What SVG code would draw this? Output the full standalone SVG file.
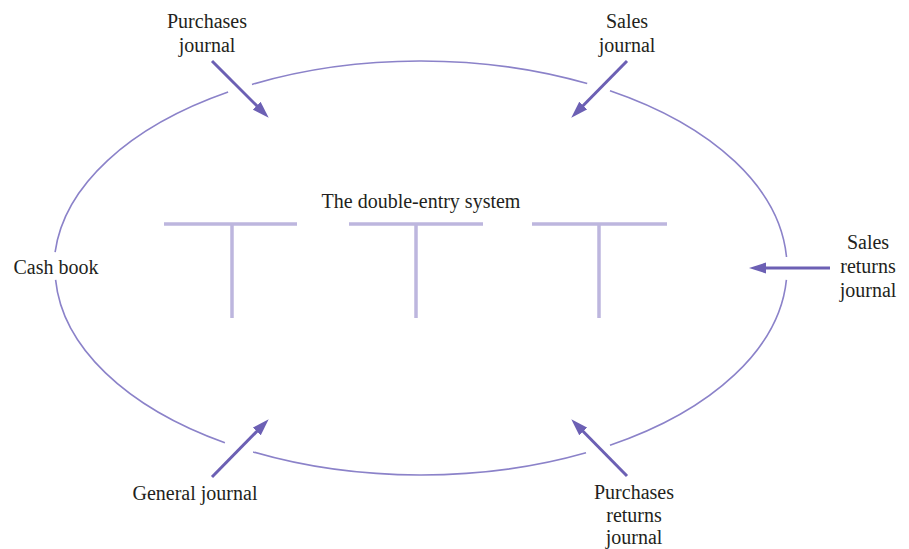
<svg xmlns="http://www.w3.org/2000/svg" width="909" height="549" viewBox="0 0 909 549">
<style>
  text { font-family: 'Liberation Serif', serif; font-size: 20px; fill: #231f20; text-anchor: middle; }
  .ring { fill: none; stroke: #8b82c9; stroke-width: 1.6; }
  .arrow { fill: none; stroke: #6c60b4; stroke-width: 3; marker-end: url(#ah); }
  .tacc { stroke: #bdb6de; stroke-width: 3.5; fill: none; }
</style>
<defs>
  <marker id="ah" markerUnits="userSpaceOnUse" viewBox="0 -6 17 12" refX="1" refY="0" markerWidth="17" markerHeight="12" orient="auto">
    <path d="M0,-5.5 L17,0 L0,5.5 z" fill="#6c60b4"/>
  </marker>
</defs>
<rect width="909" height="549" fill="#ffffff"/>

<g id="ring">
  <path class="ring" d="M610,90.7 A366,207 0 0 1 786.5,257"/>
  <path class="ring" d="M786.4,279.9 A366,207 0 0 1 610,445.3"/>
  <path class="ring" d="M586,452.8 A366,207 0 0 1 253.1,451.9"/>
  <path class="ring" d="M224.9,442.8 A366,207 0 0 1 55.6,279.9"/>
  <path class="ring" d="M55.1,252.1 A366,207 0 0 1 228.1,92.1"/>
  <path class="ring" d="M252,84.4 A366,207 0 0 1 587.2,83.6"/>
</g>

<g id="double-entry-system">
  <text x="421" y="208" font-family="Liberation Serif, serif">The double-entry system</text>
  <g id="t-account-1">
    <line class="tacc" x1="164" y1="224" x2="297" y2="224"/>
    <line class="tacc" x1="232" y1="224" x2="232" y2="318"/>
  </g>
  <g id="t-account-2">
    <line class="tacc" x1="349" y1="224" x2="483" y2="224"/>
    <line class="tacc" x1="416" y1="224" x2="416" y2="318"/>
  </g>
  <g id="t-account-3">
    <line class="tacc" x1="532" y1="224" x2="667" y2="224"/>
    <line class="tacc" x1="599" y1="224" x2="599" y2="318"/>
  </g>
</g>

<g id="purchases-journal">
  <text x="207" y="28" font-family="Liberation Serif, serif">Purchases</text>
  <text x="207" y="52" font-family="Liberation Serif, serif">journal</text>
</g>
<g id="sales-journal">
  <text x="627" y="28" font-family="Liberation Serif, serif">Sales</text>
  <text x="627" y="52" font-family="Liberation Serif, serif">journal</text>
</g>
<g id="cash-book">
  <text x="56" y="274" font-family="Liberation Serif, serif">Cash book</text>
</g>
<g id="sales-returns-journal">
  <text x="868" y="249" font-family="Liberation Serif, serif">Sales</text>
  <text x="868" y="273" font-family="Liberation Serif, serif">returns</text>
  <text x="868" y="297" font-family="Liberation Serif, serif">journal</text>
</g>
<g id="general-journal">
  <text x="195" y="500" font-family="Liberation Serif, serif">General journal</text>
</g>
<g id="purchases-returns-journal">
  <text x="634" y="499" font-family="Liberation Serif, serif">Purchases</text>
  <text x="634" y="522" font-family="Liberation Serif, serif">returns</text>
  <text x="634" y="544" font-family="Liberation Serif, serif">journal</text>
</g>

<g id="connectors">
  <line class="arrow" x1="212" y1="61" x2="257.4" y2="106.4"/>
  <line class="arrow" x1="627" y1="61" x2="582.5" y2="106.3"/>
  <line class="arrow" x1="830" y1="268" x2="765" y2="268"/>
  <line class="arrow" x1="212" y1="477" x2="257.5" y2="430.7"/>
  <line class="arrow" x1="627" y1="476" x2="582.5" y2="430.7"/>
</g>
</svg>
